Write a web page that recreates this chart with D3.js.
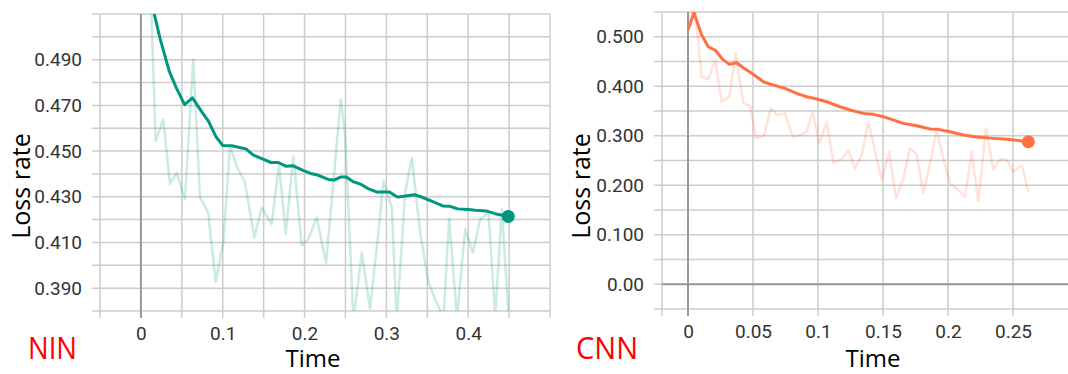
<!DOCTYPE html>
<html>

<head>
  <title>Loss rate</title>
  <script src="https://d3js.org/d3.v7.min.js"></script>
  <style>
    body {
      margin: 0;
      background: #fff;
    }

    .tick text {
      font-family: Roboto, Arial, sans-serif;
      font-size: 19px;
      fill: #333;
    }

    .axis-title {
      font-family: "Open Sans", sans-serif;
      font-size: 25px;
      fill: #000;
    }

    .model-name {
      font-family: "Open Sans", sans-serif;
      font-size: 31px;
      fill: #f00;
    }
  </style>
</head>

<body>
  <svg id="chart" width="1068" height="374"></svg>

  <script>
    // NIN run: raw points (faint line) and smoothed points (solid line)
    const ninRawTime = [0.011, 0.018, 0.0273, 0.0355, 0.0437, 0.0538, 0.064, 0.0722, 0.0823, 0.0913,
      0.1007, 0.1089, 0.117, 0.1272, 0.1386, 0.1476, 0.1598, 0.1688, 0.177, 0.1863,
      0.1965, 0.2046, 0.2149, 0.2263, 0.2443, 0.2495, 0.2597, 0.27, 0.28, 0.2903,
      0.2964, 0.3066, 0.3128, 0.3229, 0.3311, 0.3413, 0.3515, 0.3596, 0.3698, 0.3768,
      0.3862, 0.3963, 0.4057, 0.4147, 0.4248, 0.433, 0.4412, 0.4493];
    const ninRawLoss = [0.53, 0.4544, 0.4639, 0.4355, 0.4406, 0.4289, 0.4901, 0.4297, 0.4231, 0.3928,
      0.41, 0.4522, 0.4435, 0.4362, 0.4122, 0.4253, 0.418, 0.4442, 0.4136, 0.4478,
      0.4088, 0.4114, 0.4209, 0.401, 0.4726, 0.4581, 0.376, 0.4056, 0.381, 0.4144,
      0.4369, 0.4253, 0.376, 0.4318, 0.4471, 0.4144, 0.3925, 0.3852, 0.377, 0.4206,
      0.377, 0.4158, 0.4056, 0.4202, 0.4231, 0.378, 0.4245, 0.378];
    const ninSmoothTime = [0.011, 0.0236, 0.0346, 0.0433, 0.0534, 0.063, 0.074, 0.0827, 0.0915, 0.1002,
      0.111, 0.1287, 0.137, 0.15, 0.159, 0.168, 0.177, 0.1855, 0.1987, 0.2074,
      0.216, 0.229, 0.236, 0.2446, 0.251, 0.26, 0.2687, 0.2775, 0.288, 0.3037,
      0.3134, 0.3212, 0.3344, 0.343, 0.356, 0.369, 0.378, 0.387, 0.4, 0.4087,
      0.4219, 0.4328, 0.449];
    const ninSmoothLoss = [0.518, 0.499, 0.485, 0.4777, 0.4703, 0.4733, 0.4674, 0.463, 0.4564, 0.4524,
      0.4523, 0.4509, 0.4483, 0.4464, 0.445, 0.445, 0.4434, 0.4436, 0.4414, 0.4402,
      0.4395, 0.4376, 0.4373, 0.4387, 0.4387, 0.4365, 0.4355, 0.4336, 0.4321, 0.4321,
      0.4299, 0.4302, 0.4309, 0.4299, 0.428, 0.426, 0.4258, 0.4247, 0.4244, 0.4241,
      0.4238, 0.4226, 0.4214];

    // CNN run
    const cnnRawTime = [0, 0.0046, 0.0105, 0.0156, 0.0208, 0.0259, 0.0318, 0.0367, 0.0425, 0.0477,
      0.0523, 0.0585, 0.0636, 0.0687, 0.0746, 0.0805, 0.0862, 0.0913, 0.0959, 0.101,
      0.1067, 0.1118, 0.1182, 0.1233, 0.1285, 0.1336, 0.1387, 0.149, 0.1548, 0.16,
      0.1656, 0.1708, 0.1759, 0.181, 0.1862, 0.1913, 0.1964, 0.2015, 0.2079, 0.2131,
      0.2182, 0.2233, 0.2292, 0.2349, 0.24, 0.2451, 0.2503, 0.2567, 0.2618];
    const cnnRawLoss = [0.5135, 0.575, 0.4192, 0.4139, 0.4529, 0.3687, 0.3788, 0.4664, 0.3667, 0.36,
      0.2947, 0.2994, 0.3553, 0.3418, 0.3452, 0.298, 0.3014, 0.3081, 0.3485, 0.2847,
      0.3283, 0.2455, 0.2523, 0.2711, 0.2341, 0.261, 0.3283, 0.2105, 0.2677, 0.1735,
      0.2139, 0.2745, 0.263, 0.1836, 0.2442, 0.3115, 0.2543, 0.2038, 0.1903, 0.1768,
      0.2677, 0.1667, 0.315, 0.2321, 0.2523, 0.2509, 0.2273, 0.2408, 0.1869];
    const cnnSmoothTime = [0, 0.0046, 0.0105, 0.0156, 0.0208, 0.0267, 0.0318, 0.0375, 0.0425, 0.049,
      0.058, 0.0656, 0.0746, 0.0836, 0.0913, 0.099, 0.1067, 0.1169, 0.1246, 0.1349,
      0.1426, 0.1503, 0.1567, 0.1656, 0.1759, 0.1862, 0.1925, 0.2015, 0.2118, 0.2208,
      0.2246, 0.2349, 0.2451, 0.2554, 0.2618];
    const cnnSmoothLoss = [0.5135, 0.5485, 0.5034, 0.4798, 0.4731, 0.4543, 0.4442, 0.4475, 0.4374, 0.4261,
      0.4091, 0.4024, 0.3957, 0.3857, 0.3788, 0.3741, 0.3687, 0.3586, 0.352, 0.3452,
      0.3432, 0.3384, 0.3331, 0.325, 0.3202, 0.3135, 0.3129, 0.3081, 0.3014, 0.298,
      0.2968, 0.2947, 0.2927, 0.2899, 0.2879];

    // ticks
    const ninYTicks = [0.39, 0.41, 0.43, 0.45, 0.47, 0.49];
    const ninXTicks = [0, 0.1, 0.2, 0.3, 0.4];
    const cnnYTicks = [0, 0.1, 0.2, 0.3, 0.4, 0.5];
    const cnnYTickLabels = ["0.00", "0.100", "0.200", "0.300", "0.400", "0.500"];
    const cnnXTicks = [0, 0.05, 0.1, 0.15, 0.2, 0.25];
    const cnnXTickLabels = ["0", "0.05", "0.1", "0.15", "0.2", "0.25"];

    const svg = d3.select("#chart");

    function drawPanel(opt) {
      const g = svg.append("g");
      const x = d3.scaleLinear().domain(opt.xDomain).range(opt.xRange);
      const y = d3.scaleLinear().domain(opt.yDomain).range(opt.yRange);
      const [left, right] = opt.xRange;
      const [bottom, top] = opt.yRange;

      // grid
      g.selectAll(".hgrid")
        .data(opt.yGrid)
        .enter()
        .append("line")
        .attr("x1", left - 8)
        .attr("x2", right)
        .attr("y1", (d) => y(d))
        .attr("y2", (d) => y(d))
        .attr("stroke", "#cccccc")
        .attr("stroke-width", 1.5);

      g.selectAll(".vgrid")
        .data(opt.xGrid)
        .enter()
        .append("line")
        .attr("x1", (d) => x(d))
        .attr("x2", (d) => x(d))
        .attr("y1", top)
        .attr("y2", bottom + 7)
        .attr("stroke", "#cccccc")
        .attr("stroke-width", 1.5);

      // zero axes
      g.append("line")
        .attr("x1", x(0)).attr("x2", x(0))
        .attr("y1", top).attr("y2", bottom + 7)
        .attr("stroke", "#999")
        .attr("stroke-width", 2);
      if (opt.yDomain[0] < 0) {
        g.append("line")
          .attr("x1", left).attr("x2", right)
          .attr("y1", y(0)).attr("y2", y(0))
          .attr("stroke", "#999")
          .attr("stroke-width", 2);
      }

      // tick labels
      g.append("g")
        .attr("transform", `translate(${left},0)`)
        .call(d3.axisLeft(y).tickValues(opt.yTicks).tickFormat(opt.yFormat).tickSize(0).tickPadding(18))
        .call((a) => a.select(".domain").remove());

      g.append("g")
        .attr("transform", `translate(0,${bottom})`)
        .call(d3.axisBottom(x).tickValues(opt.xTicks).tickFormat(opt.xFormat).tickSize(0).tickPadding(16))
        .call((a) => a.select(".domain").remove());

      // clip
      const clipId = "clip-" + opt.name;
      svg.append("clipPath")
        .attr("id", clipId)
        .append("rect")
        .attr("x", left)
        .attr("y", top)
        .attr("width", right - left)
        .attr("height", bottom - top);

      const line = d3.line().x((d) => x(d[0])).y((d) => y(d[1]));
      const raw = d3.zip(opt.rawTime, opt.rawLoss);
      const smooth = d3.zip(opt.smoothTime, opt.smoothLoss);

      const plot = g.append("g").attr("clip-path", `url(#${clipId})`);
      plot.append("path")
        .attr("d", line(raw))
        .attr("fill", "none")
        .attr("stroke", opt.color)
        .attr("stroke-opacity", 0.2)
        .attr("stroke-width", 2.5)
        .attr("stroke-linejoin", "round");
      plot.append("path")
        .attr("d", line(smooth))
        .attr("fill", "none")
        .attr("stroke", opt.color)
        .attr("stroke-width", 3)
        .attr("stroke-linejoin", "round");

      const last = smooth[smooth.length - 1];
      g.append("circle")
        .attr("cx", x(last[0]))
        .attr("cy", y(last[1]))
        .attr("r", 6.5)
        .attr("fill", opt.color);

      // titles
      g.append("text")
        .attr("class", "axis-title")
        .attr("transform", `translate(${opt.yTitleX},${opt.yTitleY}) rotate(-90)`)
        .attr("text-anchor", "middle")
        .text("Loss rate");

      g.append("text")
        .attr("class", "axis-title")
        .attr("x", opt.xTitleX)
        .attr("y", 367)
        .attr("text-anchor", "middle")
        .style("font-size", "24px")
        .text("Time");

      g.append("text")
        .attr("class", "model-name")
        .attr("x", opt.nameX)
        .attr("y", 359)
        .attr("textLength", opt.nameWidth)
        .attr("lengthAdjust", "spacingAndGlyphs")
        .text(opt.name);
    }

    drawPanel({
      name: "NIN",
      color: "#00967f",
      xDomain: [-0.05, 0.5], xRange: [100, 550],
      yDomain: [0.38, 0.51], yRange: [311, 14],
      xGrid: d3.range(-0.05, 0.501, 0.05),
      yGrid: d3.range(0.38, 0.5101, 0.01),
      yTicks: ninYTicks, yFormat: d3.format(".3f"),
      xTicks: ninXTicks, xFormat: (d) => (d === 0 ? "0" : d3.format(".1f")(d)),
      rawTime: ninRawTime, rawLoss: ninRawLoss,
      smoothTime: ninSmoothTime, smoothLoss: ninSmoothLoss,
      yTitleX: 30, yTitleY: 186, xTitleX: 313,
      nameX: 28, nameWidth: 49
    });

    drawPanel({
      name: "CNN",
      color: "#ff7043",
      xDomain: [-0.02, 0.2923], xRange: [662, 1068],
      yDomain: [-0.05, 0.55], yRange: [309, 12],
      xGrid: [-0.02].concat(cnnXTicks),
      yGrid: d3.range(-0.05, 0.5501, 0.05),
      yTicks: cnnYTicks, yFormat: (d, i) => cnnYTickLabels[i],
      xTicks: cnnXTicks, xFormat: (d, i) => cnnXTickLabels[i],
      rawTime: cnnRawTime, rawLoss: cnnRawLoss,
      smoothTime: cnnSmoothTime, smoothLoss: cnnSmoothLoss,
      yTitleX: 590, yTitleY: 186, xTitleX: 873,
      nameX: 576, nameWidth: 62
    });
  </script>
</body>

</html>
